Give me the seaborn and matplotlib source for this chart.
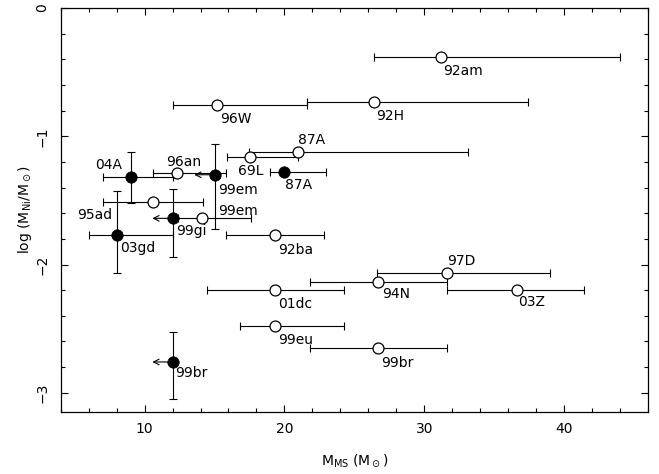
import numpy as np
import pandas as pd
import matplotlib
matplotlib.use('Agg')
import matplotlib.pyplot as plt
import seaborn as sns
from matplotlib.ticker import MultipleLocator

# open circles: SN name, main-sequence mass, log Ni mass, mass error (low / high)
open_sn = ['92am', '92H', '96W', '87A', '69L', '96an', '95ad', '99em',
           '92ba', '97D', '94N', '01dc', '03Z', '99eu', '99br']
open_mms = [31.2, 26.4, 15.2, 21.0, 17.55, 12.3, 10.6, 14.1,
            19.3, 31.6, 26.7, 19.3, 36.6, 19.3, 26.7]
open_ni = [-0.38, -0.73, -0.76, -1.12, -1.16, -1.29, -1.51, -1.64,
           -1.77, -2.07, -2.14, -2.20, -2.195, -2.48, -2.65]
open_mms_lo = [4.8, 4.8, 3.2, 3.5, 1.65, 1.7, 3.6, 1.7,
               3.45, 4.95, 4.85, 4.85, 4.95, 2.45, 4.85]
open_mms_hi = [12.8, 11.05, 6.4, 12.15, 3.45, 3.5, 3.6, 3.5,
               3.5, 7.4, 4.95, 4.95, 4.85, 4.95, 4.95]

# filled circles
filled_sn = ['87A', '04A', '99em', '99gi', '03gd', '99br']
filled_mms = [20.0, 9.0, 15.0, 12.0, 8.0, 12.0]
filled_ni = [-1.28, -1.32, -1.30, -1.64, -1.77, -2.76]
filled_mms_lo = [1.0, 2.0, 0.0, 0.0, 2.0, 0.0]
filled_mms_hi = [3.0, 3.0, 0.0, 0.0, 4.0, 0.0]
filled_ni_lo = [0.0, 0.2, 0.42, 0.30, 0.30, 0.29]
filled_ni_hi = [0.0, 0.2, 0.24, 0.23, 0.34, 0.23]
filled_upper = [False, False, True, True, False, True]

# label offsets in pixels (dx right, dy down) and alignment
open_lab = {'92am': (2, 18, 'left'), '92H': (2, 18, 'left'), '96W': (3, 18, 'left'),
            '87A': (0, -8, 'left'), '69L': (-12, 18, 'left'), '96an': (7, -7, 'center'),
            '95ad': (-41, 17, 'right'), '99em': (16, -3, 'left'), '92ba': (3, 19, 'left'),
            '97D': (0, -8, 'left'), '94N': (4, 16, 'left'), '01dc': (3, 18, 'left'),
            '03Z': (2, 16, 'left'), '99eu': (3, 18, 'left'), '99br': (3, 19, 'left')}
filled_lab = {'87A': (1, 17, 'left'), '04A': (-8, -8, 'right'), '99em': (4, 19, 'left'),
              '99gi': (4, 17, 'left'), '03gd': (3, 17, 'left'), '99br': (3, 15, 'left')}

df_o = pd.DataFrame({'sn': open_sn, 'mms': open_mms, 'ni': open_ni,
                     'lo': open_mms_lo, 'hi': open_mms_hi})
df_f = pd.DataFrame({'sn': filled_sn, 'mms': filled_mms, 'ni': filled_ni,
                     'lo': filled_mms_lo, 'hi': filled_mms_hi,
                     'nlo': filled_ni_lo, 'nhi': filled_ni_hi, 'upper': filled_upper})

sns.set_style('ticks')
plt.rcParams['font.family'] = ['DejaVu Sans']
plt.rcParams['mathtext.fontset'] = 'dejavusans'
plt.rcParams['text.color'] = 'black'
plt.rcParams['axes.labelcolor'] = 'black'

fig = plt.figure(figsize=(6.59, 4.74), dpi=100)
ax = fig.add_axes([0.0921, 0.1308, 0.8912, 0.8523])

eb = dict(fmt='none', ecolor='black', elinewidth=0.8, capsize=3, capthick=0.8, zorder=2)
ax.errorbar(df_o.mms, df_o.ni, xerr=[df_o.lo, df_o.hi], **eb)
fx = df_f[df_f.lo > 0]
ax.errorbar(fx.mms, fx.ni, xerr=[fx.lo, fx.hi], **eb)
fy = df_f[df_f.nlo > 0]
ax.errorbar(fy.mms, fy.ni, yerr=[fy.nlo, fy.nhi], **eb)

# upper limits on the mass
for _, r in df_f[df_f.upper].iterrows():
    ax.annotate('', xy=(r.mms - 1.45, r.ni), xytext=(r.mms, r.ni),
                arrowprops=dict(arrowstyle='->', lw=0.8, color='black',
                                shrinkA=0, shrinkB=0, mutation_scale=10))

sns.scatterplot(data=df_o, x='mms', y='ni', ax=ax, marker='o', s=62,
                facecolor='white', edgecolor='black', linewidth=0.9, zorder=3)
sns.scatterplot(data=df_f, x='mms', y='ni', ax=ax, marker='o', s=68,
                color='black', edgecolor='black', linewidth=0.5, zorder=4)

for _, r in df_o.iterrows():
    dx, dy, ha = open_lab[r.sn]
    ax.annotate(r.sn, (r.mms, r.ni), xytext=(dx, -dy), textcoords='offset pixels',
                ha=ha, va='baseline', fontsize=10, color='black')
for _, r in df_f.iterrows():
    dx, dy, ha = filled_lab[r.sn]
    ax.annotate(r.sn, (r.mms, r.ni), xytext=(dx, -dy), textcoords='offset pixels',
                ha=ha, va='baseline', fontsize=10, color='black')

ax.set_xlim(4, 46)
ax.set_ylim(-3.15, 0)
ax.xaxis.set_major_locator(MultipleLocator(10))
ax.xaxis.set_minor_locator(MultipleLocator(2))
ax.yaxis.set_major_locator(MultipleLocator(1))
ax.yaxis.set_minor_locator(MultipleLocator(0.2))
ax.tick_params(which='both', direction='in', top=True, right=True, width=0.8,
               labelsize=10, color='black', labelcolor='black')
ax.tick_params(which='major', length=5)
ax.tick_params(which='minor', length=2.8)
ax.tick_params(axis='x', pad=7)
ax.tick_params(axis='y', pad=8)
plt.setp(ax.get_yticklabels(), rotation=90, va='center')
for s in ax.spines.values():
    s.set_linewidth(0.9)
    s.set_color('black')

ax.set_xlabel(r'M$_{\rm MS}$ (M$_\odot$)', fontsize=10)
ax.set_ylabel(r'log (M$_{\rm Ni}$/M$_\odot$)', fontsize=10)
ax.xaxis.set_label_coords(0.5, -0.099)
ax.yaxis.set_label_coords(-0.045, 0.5)

fig.savefig('out.png', dpi=100)
